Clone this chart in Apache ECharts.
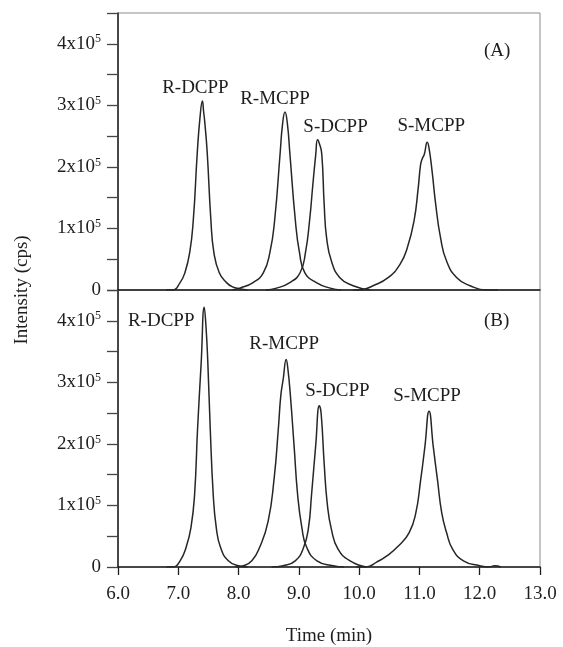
<!DOCTYPE html>
<html>
<head>
<meta charset="utf-8">
<script src="https://cdn.jsdelivr.net/npm/echarts@6/dist/echarts.min.js"></script>
<style>
  html, body { margin: 0; padding: 0; background: #fff; }
  #main { width: 563px; height: 647px; }
</style>
</head>
<body>
<div id="main"></div>
<script>
// intensities in units of 10^5 cps, time in min
const timeTicks = [6, 7, 8, 9, 10, 11, 12, 13];
const peakNames = ['R-DCPP', 'R-MCPP', 'S-DCPP', 'S-MCPP'];

// panel (A)
const rDcppA = [[6.80,0],[6.91,0],[7.03,0.12],[7.11,0.28],[7.19,0.61],[7.25,1.15],[7.315,2.23],[7.36,2.80],[7.40,3.07],[7.42,2.90],[7.44,2.72],[7.48,2.23],[7.54,1.15],[7.59,0.61],[7.68,0.28],[7.80,0.12],[7.90,0.05],[8.02,0.02],[8.15,0]];
const rMcppA = [[7.90,0],[8.02,0.03],[8.24,0.12],[8.41,0.28],[8.52,0.61],[8.60,1.15],[8.69,2.23],[8.73,2.70],[8.77,2.89],[8.81,2.70],[8.85,2.23],[8.94,1.15],[9.01,0.61],[9.10,0.28],[9.29,0.12],[9.52,0.03],[9.70,0]];
const sDcppA = [[8.45,0],[8.63,0.03],[8.85,0.12],[9.02,0.28],[9.11,0.61],[9.18,1.15],[9.23,1.69],[9.28,2.20],[9.31,2.44],[9.34,2.38],[9.38,2.21],[9.42,1.39],[9.46,0.85],[9.54,0.47],[9.68,0.20],[9.90,0.07],[10.18,0]];
const sMcppA = [[9.90,0],[10.01,0],[10.23,0.07],[10.48,0.20],[10.68,0.42],[10.80,0.69],[10.91,1.12],[10.98,1.66],[11.02,2.04],[11.05,2.14],[11.08,2.20],[11.13,2.40],[11.16,2.30],[11.21,1.93],[11.27,1.39],[11.35,0.85],[11.45,0.47],[11.62,0.20],[11.84,0.07],[12.11,0],[12.30,0]];

// panel (B)
const rDcppB = [[6.80,0],[6.92,0],[7.03,0.10],[7.13,0.32],[7.21,0.64],[7.27,1.17],[7.32,2.25],[7.38,3.32],[7.43,4.22],[7.46,3.90],[7.49,3.32],[7.53,2.25],[7.58,1.17],[7.63,0.64],[7.70,0.32],[7.83,0.10],[8.00,0.02],[8.15,0]];
const rMcppB = [[7.95,0],[8.08,0.02],[8.22,0.10],[8.35,0.32],[8.49,0.74],[8.59,1.44],[8.66,2.25],[8.70,2.78],[8.74,3.05],[8.79,3.37],[8.82,3.20],[8.86,2.78],[8.92,1.98],[8.98,1.17],[9.05,0.64],[9.13,0.32],[9.30,0.10],[9.57,0.02],[9.75,0]];
const sDcppB = [[8.55,0],[8.74,0.02],[8.94,0.10],[9.08,0.32],[9.16,0.64],[9.21,1.17],[9.28,1.98],[9.34,2.62],[9.37,2.49],[9.42,1.68],[9.47,1.04],[9.54,0.61],[9.65,0.29],[9.85,0.10],[10.12,0]];
const sMcppB = [[9.95,0],[10.12,0],[10.29,0.08],[10.46,0.18],[10.65,0.34],[10.83,0.56],[10.94,0.88],[11.02,1.41],[11.09,1.95],[11.16,2.53],[11.23,1.95],[11.30,1.41],[11.37,0.88],[11.45,0.56],[11.55,0.29],[11.73,0.10],[12.00,0.02],[12.15,0],[12.25,0.02],[12.35,0]];

const dom = document.getElementById('main');
// eslint-disable-next-line no-undef
const myChart = echarts.init(dom);

const serif = 'Liberation Serif';
const ink = '#1e1e1e';

const yLabel = (v) => {
  if (v === 0) return '0';
  if (v % 1 !== 0) return '';
  return v + 'x10{s|5}';
};

const yAxis = (idx) => ({
  type: 'value',
  gridIndex: idx,
  min: 0,
  max: 4.5,
  interval: 0.5,
  axisLine: { show: true, lineStyle: { color: ink, width: 1.5 } },
  axisTick: { show: true, length: 11, lineStyle: { color: '#444', width: 1.3 } },
  splitLine: { show: false },
  axisLabel: {
    margin: 17,
    formatter: yLabel,
    color: ink,
    fontFamily: serif,
    fontSize: 19,
    rich: {
      s: { fontSize: 12, fontFamily: serif, color: ink, verticalAlign: 'top', padding: [0, 0, 9, 0] }
    }
  }
});

const xAxis = (idx, withLabels) => ({
  type: 'value',
  gridIndex: idx,
  min: timeTicks[0],
  max: timeTicks[timeTicks.length - 1],
  interval: 1,
  axisLine: { show: true, onZero: false, lineStyle: { color: ink, width: 1.5 } },
  axisTick: { show: withLabels, length: 8, lineStyle: { color: ink, width: 1.3 } },
  splitLine: { show: false },
  axisLabel: {
    show: withLabels,
    margin: 18,
    formatter: (v) => v.toFixed(1),
    color: ink,
    fontFamily: serif,
    fontSize: 19
  },
  name: withLabels ? 'Time (min)' : '',
  nameLocation: 'middle',
  nameGap: 60,
  nameTextStyle: { color: ink, fontFamily: serif, fontSize: 19 }
});

const trace = (data, idx, name, offset) => ({
  type: 'line',
  name: name,
  xAxisIndex: idx,
  yAxisIndex: idx,
  data: data,
  showSymbol: false,
  smooth: 0.5,
  lineStyle: { color: '#262626', width: 1.5 },
  silent: true,
  markPoint: {
    symbol: 'circle',
    symbolSize: 1,
    itemStyle: { color: 'rgba(0,0,0,0)' },
    data: [{ type: 'max', valueDim: 'y' }],
    label: {
      show: true,
      position: 'inside',
      offset: offset,
      formatter: () => name,
      color: ink,
      fontFamily: serif,
      fontSize: 19
    }
  }
});

const option = {
  animation: false,
  backgroundColor: '#fff',
  grid: [
    { left: 118, right: 23, top: 13, height: 277, show: true, borderColor: '#8a8a8a', borderWidth: 1 },
    { left: 118, right: 23, top: 290, height: 278, show: true, borderColor: '#8a8a8a', borderWidth: 1 }
  ],
  xAxis: [xAxis(0, false), xAxis(1, true)],
  yAxis: [yAxis(0), yAxis(1)],
  graphic: [
    {
      type: 'text', left: 484, top: 42,
      style: { text: '(A)', fill: ink, font: '19px "Liberation Serif"' }
    },
    {
      type: 'text', left: 484, top: 312,
      style: { text: '(B)', fill: ink, font: '19px "Liberation Serif"' }
    },
    {
      type: 'text', x: 22, y: 290, rotation: Math.PI / 2,
      style: { text: 'Intensity (cps)', fill: ink, font: '19px "Liberation Serif"', align: 'center', verticalAlign: 'middle' }
    }
  ],
  series: [
    trace(rDcppA, 0, peakNames[0], [-7, -13]),
    trace(rMcppA, 0, peakNames[1], [-10, -13]),
    trace(sDcppA, 0, peakNames[2], [18, -13]),
    trace(sMcppA, 0, peakNames[3], [4, -16]),
    trace(rDcppB, 1, peakNames[0], [-43, 14]),
    trace(rMcppB, 1, peakNames[1], [-2, -16]),
    trace(sDcppB, 1, peakNames[2], [18, -15]),
    trace(sMcppB, 1, peakNames[3], [-2, -15])
  ]
};

myChart.setOption(option);

window.addEventListener('resize', myChart.resize);
</script>
</body>
</html>
